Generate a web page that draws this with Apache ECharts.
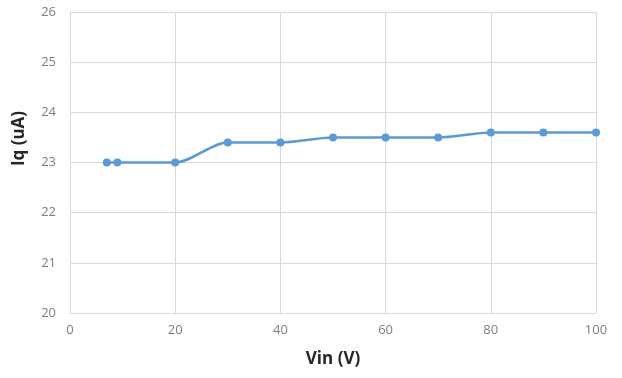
<!DOCTYPE html>
<html>
<head>
<meta charset="utf-8">
<script src="https://cdn.jsdelivr.net/npm/echarts@6/dist/echarts.min.js"></script>
<style>
html,body{margin:0;padding:0;background:#fff;}
#chart{width:622px;height:378px;}
</style>
</head>
<body>
<div id="chart"></div>
<script>
const vin = [7, 9, 20, 30, 40, 50, 60, 70, 80, 90, 100];
const iq = [23.0, 23.0, 23.0, 23.4, 23.4, 23.5, 23.5, 23.5, 23.6, 23.6, 23.6];
const xName = 'Vin (V)';
const yName = 'Iq (uA)';

const chart = echarts.init(document.getElementById('chart'));
const font = '"Open Sans", "Noto Sans", sans-serif';
chart.setOption({
  animation: false,
  grid: {left: 70, right: 26, top: 12, bottom: 65},
  xAxis: {
    type: 'value', min: 0, max: 100, interval: 20,
    name: xName, nameLocation: 'middle', nameGap: 38,
    nameTextStyle: {fontFamily: font, fontSize: 17, fontWeight: 'bold', color: '#262626'},
    axisLine: {show: true, lineStyle: {color: '#d9d9d9', width: 1}},
    axisTick: {show: false},
    axisLabel: {fontFamily: font, fontSize: 13, color: '#7f7f7f', margin: 11},
    splitLine: {show: true, lineStyle: {color: '#d9d9d9', width: 1}}
  },
  yAxis: {
    type: 'value', min: 20, max: 26, interval: 1,
    name: yName, nameLocation: 'middle', nameGap: 42,
    nameTextStyle: {fontFamily: font, fontSize: 17, fontWeight: 'bold', color: '#262626', padding: [0, 0, 0, 48]},
    axisLine: {show: true, lineStyle: {color: '#d9d9d9', width: 1}},
    axisTick: {show: false},
    axisLabel: {fontFamily: font, fontSize: 13, color: '#7f7f7f', margin: 14},
    splitLine: {show: true, lineStyle: {color: '#d9d9d9', width: 1}}
  },
  series: [{
    type: 'line',
    data: vin.map((v, i) => [v, iq[i]]),
    smooth: 0.3,
    symbol: 'circle', symbolSize: 8,
    lineStyle: {color: '#5b9bd5', width: 2.5},
    itemStyle: {color: '#5b9bd5'}
  }]
});
</script>
</body>
</html>
